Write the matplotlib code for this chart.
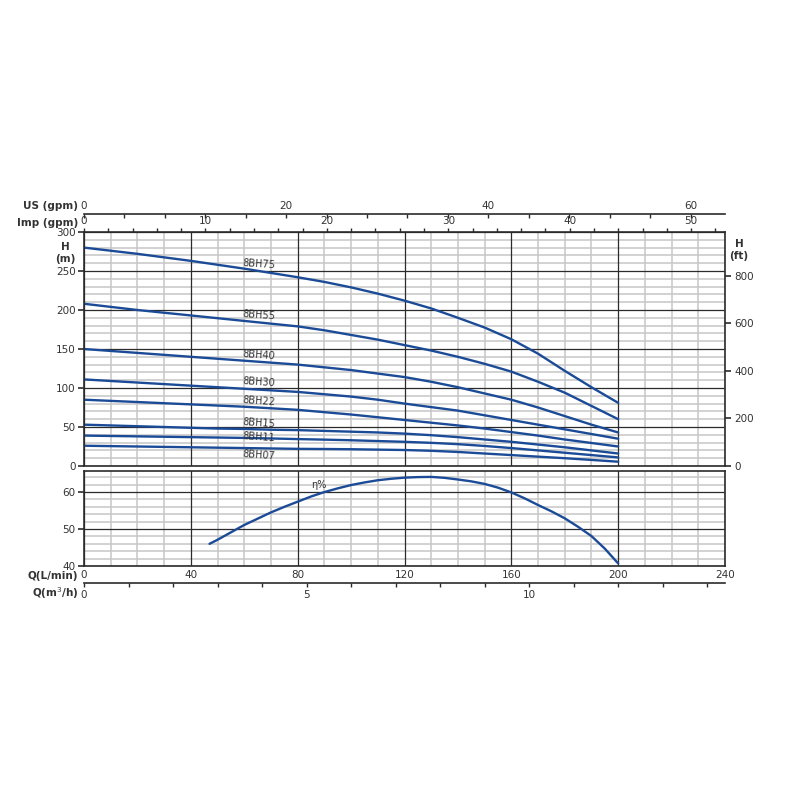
import matplotlib
matplotlib.use('Agg')
import matplotlib.pyplot as plt
import numpy as np
from matplotlib.ticker import MultipleLocator

# ---------------- data ----------------
Q = [0, 10, 20, 30, 40, 50, 60, 70, 80, 90, 100, 110, 120, 130, 140, 150, 160, 170, 180, 190, 200]  # L/min
H_8BH75 = [280, 276, 272, 267.5, 263, 258, 253, 247.5, 242, 236, 229, 221, 212, 202, 190, 177.5, 162.5, 144, 122, 101, 81]
H_8BH55 = [208, 204, 200, 196.5, 193, 189.5, 186, 182.5, 179, 174, 168, 162, 155, 148, 140, 131, 121, 108, 94, 77, 60]
H_8BH40 = [150, 147.5, 145, 142.5, 140, 137.5, 135, 132.5, 130, 126.5, 123, 118.5, 114, 108, 101, 93, 85, 75, 64, 53, 43]
H_8BH30 = [111, 109, 107, 105, 103, 101, 99, 97, 95, 92, 89, 85, 80, 75.5, 71, 65, 59, 53, 47, 41, 35]
H_8BH22 = [85, 83.5, 82, 80.5, 79, 77.5, 76, 74, 72, 69, 66, 62.5, 59, 55.5, 52, 48, 43.5, 39, 34, 29.5, 25]
H_8BH15 = [53, 52, 51, 50, 49, 48, 47.5, 46.5, 46, 45, 44, 43, 41.5, 39.5, 37, 34, 31, 27.5, 24, 20, 16]
H_8BH11 = [39, 38.5, 38, 37.5, 37, 36.5, 36, 35.3, 34.5, 33.8, 33, 32, 31, 29.7, 28, 25.7, 23, 20, 17, 14, 11]
H_8BH07 = [26, 25.5, 25, 24.5, 24, 23.5, 23, 22.5, 22, 21.8, 21.5, 21, 20.5, 19.5, 18, 16, 14, 12, 10, 7.8, 5.5]
models = ['8BH75', '8BH55', '8BH40', '8BH30', '8BH22', '8BH15', '8BH11', '8BH07']
heads = [H_8BH75, H_8BH55, H_8BH40, H_8BH30, H_8BH22, H_8BH15, H_8BH11, H_8BH07]
label_H = [259, 194, 142, 108, 83, 55, 37, 14]

Q_eff = [47, 50, 55, 60, 65, 70, 75, 80, 85, 90, 95, 100, 105, 110, 115, 120, 125, 130,
         135, 140, 145, 150, 155, 160, 165, 170, 175, 180, 185, 190, 195, 200]
eff = [46, 47.1, 49.1, 51.1, 52.8, 54.5, 56.0, 57.4, 58.8, 60.0, 61.0, 61.9, 62.6, 63.2, 63.6, 63.9,
       64.05, 64.1, 63.85, 63.4, 62.9, 62.2, 61.2, 59.9, 58.3, 56.5, 54.8, 52.9, 50.6, 48.1, 44.7, 40.7]

H_ticks = [0, 50, 100, 150, 200, 250, 300]
ft_ticks = [0, 200, 400, 600, 800]
eff_ticks = [40, 50, 60]
Q_ticks = [0, 40, 80, 120, 160, 200, 240]
imp_ticks = [0, 10, 20, 30, 40, 50]
us_ticks = [0, 20, 40, 60]
m3h_ticks = [0, 5, 10]

L_PER_IMP = 4.546
L_PER_US = 3.785
FT_PER_M = 3.2808

# ---------------- style ----------------
plt.rcParams['font.family'] = ['DejaVu Sans']
FS = 7.5
TXT = '#333333'
BLUE = '#1b4b97'
DARK = '#2b2b2b'
LIGHT = '#c6c6c6'

fig = plt.figure(figsize=(8, 8), dpi=100)
fig.patch.set_facecolor('white')

def fx(x):
    return x / 800.0

def fy(y):
    return 1 - y / 800.0

ax = fig.add_axes([fx(84), fy(466), fx(725) - fx(84), fy(232) - fy(466)])
ax2 = fig.add_axes([fx(84), fy(566), fx(725) - fx(84), fy(471) - fy(566)])

def draw_grid(a, xmaj, xmin_step, ylo, yhi, ymaj, ymin_step):
    for v in np.arange(0, 240 + 1e-9, xmin_step):
        major = abs((v / xmaj) - round(v / xmaj)) < 1e-9
        if not major:
            a.axvline(v, color=LIGHT, lw=1.1, zorder=0.5)
    for v in np.arange(ylo, yhi + 1e-9, ymin_step):
        major = abs(((v - ylo) / ymaj) - round((v - ylo) / ymaj)) < 1e-9
        if not major:
            a.axhline(v, color=LIGHT, lw=1.1, zorder=0.5)
    for v in np.arange(0, 240 + 1e-9, xmaj):
        a.axvline(v, color=DARK, lw=0.9, zorder=0.6)
    for v in np.arange(ylo, yhi + 1e-9, ymaj):
        a.axhline(v, color=DARK, lw=0.9, zorder=0.6)

for a in (ax, ax2):
    a.set_xlim(0, 240)
    for s in a.spines.values():
        s.set_color(DARK)
        s.set_linewidth(1.2)
        s.set_zorder(5)
    a.tick_params(which='both', colors=DARK, labelcolor=TXT, labelsize=FS)
    a.tick_params(axis='x', which='both', length=0)
    a.tick_params(axis='y', which='major', length=4, width=1.2, direction='out', pad=2)
    a.tick_params(axis='y', which='minor', length=0)

# top axes
ax.set_ylim(0, 300)
ax.set_yticks(H_ticks)
ax.set_xticks(Q_ticks)
ax.tick_params(axis='x', labelbottom=False)
draw_grid(ax, 40, 10, 0, 300, 50, 10)

for name, h, lh in zip(models, heads, label_H):
    ax.plot(Q, h, color=BLUE, lw=1.7, solid_capstyle='round', zorder=3)
    ax.text(65.5, lh, name, fontsize=7, color=TXT, rotation=-4,
            ha='center', va='center', zorder=4)

# right ft axis
sec_r = ax.secondary_yaxis('right', functions=(lambda m: m * FT_PER_M, lambda f: f / FT_PER_M))
sec_r.set_yticks(ft_ticks)
sec_r.tick_params(length=4, width=1.2, colors=DARK, labelcolor=TXT, labelsize=FS, pad=3)
sec_r.spines['right'].set_visible(False)

# Imp gpm axis (on top spine)
sec_imp = ax.secondary_xaxis('top', functions=(lambda q: np.asarray(q) / L_PER_IMP,
                                                lambda g: np.asarray(g) * L_PER_IMP))
sec_imp.set_xticks(imp_ticks)
sec_imp.xaxis.set_minor_locator(MultipleLocator(2))
sec_imp.tick_params(which='both', direction='out', length=3, width=1, colors=DARK,
                    labelcolor=TXT, labelsize=FS, pad=1)
sec_imp.spines['top'].set_visible(False)

# US gpm axis (separate line above)
loc_us = (466 - 214) / (466 - 232)
sec_us = ax.secondary_xaxis(loc_us, functions=(lambda q: np.asarray(q) / L_PER_US,
                                                lambda g: np.asarray(g) * L_PER_US))
sec_us.set_xticks(us_ticks)
sec_us.xaxis.set_minor_locator(MultipleLocator(4))
sec_us.tick_params(which='both', direction='in', length=3, width=1, colors=DARK,
                   labelcolor=TXT, labelsize=FS, pad=2)
sec_us.spines['top'].set_color(DARK)
sec_us.spines['top'].set_linewidth(1.2)

# lower efficiency axes
ax2.set_ylim(40, 65.7)
ax2.set_yticks(eff_ticks)
ax2.set_xticks(Q_ticks)
ax2.tick_params(axis='x', pad=3)
draw_grid(ax2, 40, 10, 40, 64, 10, 2)
ax2.plot(Q_eff, eff, color=BLUE, lw=1.7, solid_capstyle='round', zorder=3)
ax2.text(88, 61.9, 'η%', fontsize=7, color=TXT, ha='center', va='center', zorder=4)

# m3/h axis
loc_m3 = (566 - 583) / (566 - 471)
sec_m3 = ax2.secondary_xaxis(loc_m3, functions=(lambda q: np.asarray(q) * 0.06,
                                                 lambda m: np.asarray(m) / 0.06))
sec_m3.set_xticks(m3h_ticks)
sec_m3.xaxis.set_minor_locator(MultipleLocator(1))
sec_m3.tick_params(which='both', direction='out', length=3, width=1, colors=DARK,
                   labelcolor=TXT, labelsize=FS, pad=2)
sec_m3.spines['bottom'].set_color(DARK)
sec_m3.spines['bottom'].set_linewidth(1.2)

# axis titles
bold = dict(fontsize=FS, fontweight='bold', color=TXT)
fig.text(fx(65), fy(253), 'H\n(m)', ha='center', va='center', linespacing=1.3, **bold)
fig.text(fx(739), fy(250), 'H\n(ft)', ha='center', va='center', linespacing=1.3, **bold)
fig.text(fx(78), fy(206), 'US (gpm)', ha='right', va='center', **bold)
fig.text(fx(78), fy(223), 'Imp (gpm)', ha='right', va='center', **bold)
fig.text(fx(78), fy(576), 'Q(L/min)', ha='right', va='center', **bold)
fig.text(fx(78), fy(593), 'Q(m$^3$/h)', ha='right', va='center', **bold)

fig.savefig('out.png', dpi=100, facecolor='white')
